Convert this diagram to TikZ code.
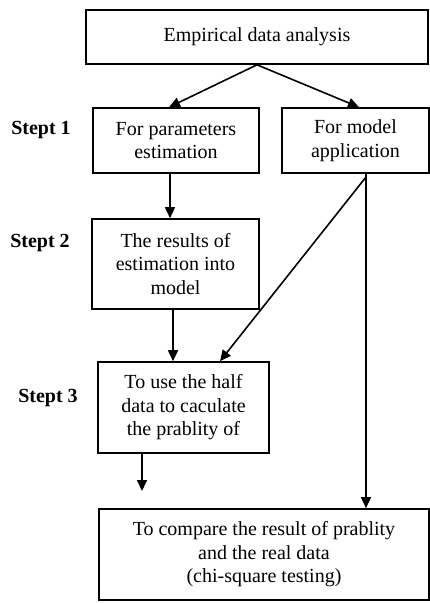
\documentclass[tikz,border=0pt]{standalone}
\usepackage{fontspec}
\setmainfont{Liberation Serif}
\usetikzlibrary{arrows.meta}

\begin{document}
\begin{tikzpicture}[x=1pt, y=-1pt, line width=1.6pt,
    font=\fontsize{20}{23.5}\selectfont,
    box/.style={draw, align=center, inner sep=0pt},
    lbl/.style={font=\fontsize{20}{23.5}\selectfont\bfseries},
    >={Triangle[length=11pt, width=10pt]}]
    \useasboundingbox (0,0) rectangle (430,603);

    \node[box, minimum width=342pt, minimum height=54pt] (top) at (257, 37) {Empirical data analysis};
    \node[box, minimum width=166pt, minimum height=65pt] (param) at (176, 140.5) {For parameters\\estimation};
    \node[box, minimum width=147pt, minimum height=65pt] (model) at (355.5, 140.5) {For model\\application};
    \node[box, minimum width=167pt, minimum height=90pt] (results) at (175.5, 264) {The results of\\estimation into\\model};
    \node[box, minimum width=171pt, minimum height=91pt] (half) at (183.5, 407.5) {To use the half\\data to caculate\\the prablity of};
    \node[box, minimum width=330pt, minimum height=91pt] (compare) at (264, 554.5) {To compare the result of prablity\\and the real data\\(chi-square testing)};

    \node[lbl] (s1) at (41, 130) {Stept 1};
    \node[lbl] (s2) at (40, 243) {Stept 2};
    \node[lbl] (s3) at (48, 398) {Stept 3};

    \coordinate (split) at (366, 177);
    \coordinate (halfout) at (142, 491);

    \draw[->] (top.south) -- ([xshift=-7pt]param.north);
    \draw[->] (top.south) -- ([xshift=3.5pt]model.north);
    \draw[->] ([xshift=-6pt]param.south) -- ([xshift=-5.5pt]results.north);
    \draw[->] ([xshift=-2.5pt]results.south) -- ([xshift=-10.5pt]half.north);
    \draw[->] (split) -- ([xshift=36.5pt]half.north);
    \draw[->] ([xshift=10.5pt]model.south) -- ([xshift=102pt]compare.north);
    \draw[->] ([xshift=-41.5pt]half.south) -- (halfout);
\end{tikzpicture}
\end{document}
